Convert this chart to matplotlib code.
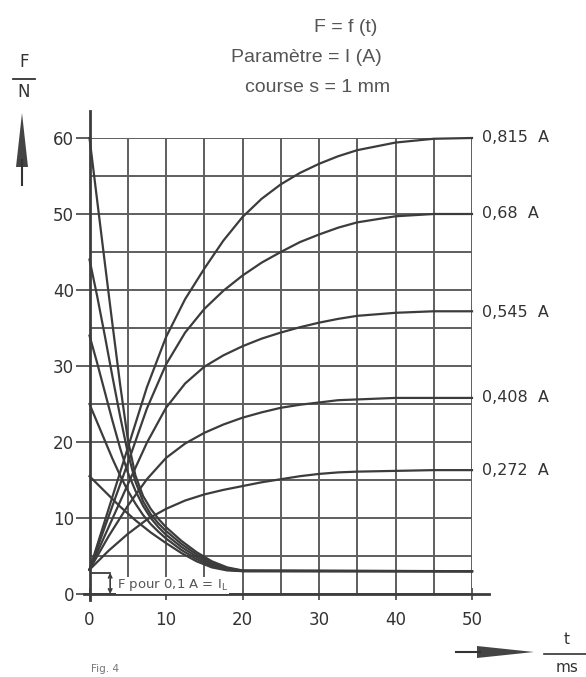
import numpy as np
import matplotlib
matplotlib.use('Agg')
import matplotlib.pyplot as plt

# ---- data (t in ms, F in N) ----
t_rise = [0, 2.5, 5, 7.5, 10, 12.5, 15, 17.5, 20, 22.5, 25, 27.5, 30, 32.5, 35, 40, 45, 50]
rise_0815 = [3.2, 11.2, 19.2, 27.2, 33.8, 38.8, 42.8, 46.5, 49.6, 52.0, 53.9, 55.4, 56.6, 57.6, 58.4, 59.4, 59.9, 60]
rise_068 = [3.2, 10.2, 17.2, 24.4, 30.2, 34.4, 37.5, 39.9, 41.9, 43.6, 45.0, 46.3, 47.3, 48.2, 48.9, 49.7, 50, 50]
rise_0545 = [3.2, 8.8, 14.4, 19.9, 24.5, 27.7, 29.9, 31.4, 32.6, 33.6, 34.4, 35.1, 35.7, 36.2, 36.6, 37.0, 37.2, 37.2]
rise_0408 = [3.2, 7.6, 11.6, 15.1, 17.9, 19.8, 21.2, 22.3, 23.2, 23.9, 24.5, 24.9, 25.2, 25.5, 25.6, 25.8, 25.8, 25.8]
rise_0272 = [3.2, 5.7, 7.9, 9.8, 11.2, 12.3, 13.1, 13.7, 14.2, 14.7, 15.1, 15.5, 15.8, 16.0, 16.1, 16.2, 16.3, 16.3]

t_decay = [0, 1, 2, 3, 4, 5, 6, 7, 8, 9, 10, 12, 14, 16, 18, 20, 50]
decay_60 = [60, 51.8, 43.6, 35.5, 27.6, 20.4, 15.6, 12.9, 11.2, 9.9, 8.8, 7.0, 5.5, 4.3, 3.5, 3.1, 3]
decay_45 = [44, 39.2, 34, 28.6, 23.4, 18.6, 14.8, 12.2, 10.5, 9.3, 8.3, 6.6, 5.2, 4.1, 3.4, 3.05, 3]
decay_35 = [34, 30.4, 26.6, 22.8, 19.2, 16.0, 13.6, 11.6, 10.0, 8.8, 7.8, 6.2, 4.9, 3.9, 3.3, 3.03, 3]
decay_25 = [25, 22.6, 20.2, 17.8, 15.6, 13.6, 11.9, 10.4, 9.2, 8.2, 7.3, 5.8, 4.6, 3.7, 3.2, 3.02, 3]
decay_15 = [15.5, 14.5, 13.5, 12.5, 11.5, 10.6, 9.7, 8.9, 8.1, 7.4, 6.7, 5.4, 4.3, 3.5, 3.1, 3.0, 3]

current_labels = ['0,815  A', '0,68  A', '0,545  A', '0,408  A', '0,272  A']
label_levels = [60, 50, 37, 25.9, 16.3]

x_ticks = [0, 10, 20, 30, 40, 50]
y_ticks = [0, 10, 20, 30, 40, 50, 60]

W, H = 586, 677
ink = '#3c3c3c'
grid_c = '#5e5e5e'
txt_c = '#333333'
title_c = '#555555'

plt.rcParams['font.family'] = ['DejaVu Sans']

fig = plt.figure(figsize=(W / 100, H / 100), dpi=100)
ax = fig.add_axes([89.5 / W, 1 - 594 / H, 382.5 / W, 456 / H])
ax.set_xlim(0, 50)
ax.set_ylim(0, 60)
for sp in ax.spines.values():
    sp.set_visible(False)

# grid every 5
for g in np.arange(0, 51, 5):
    ax.plot([g, g], [0, 60], color=grid_c, lw=1.4, zorder=1)
for g in np.arange(0, 61, 5):
    ax.plot([0, 50], [g, g], color=grid_c, lw=1.4, zorder=1)

# axes lines extending past the grid
ax.plot([0, 0], [-0.8, 63.5], color=ink, lw=2.0, clip_on=False, zorder=3)
ax.plot([-0.7, 52.2], [0, 0], color=ink, lw=2.0, clip_on=False, zorder=3)

ax.set_xticks(x_ticks)
ax.set_yticks(y_ticks)
ax.tick_params(axis='y', length=10, width=1.4, color=grid_c, pad=1,
               labelsize=12, labelcolor=txt_c)
ax.tick_params(axis='x', direction='inout', length=8, width=1.4, color=grid_c,
               pad=8, labelsize=12, labelcolor=txt_c)

# curves
for ys in [rise_0815, rise_068, rise_0545, rise_0408, rise_0272]:
    ax.plot(t_rise, ys, color=ink, lw=1.6, zorder=4, clip_on=False)
for ys in [decay_60, decay_45, decay_35, decay_25, decay_15]:
    ax.plot(t_decay, ys, color=ink, lw=1.6, zorder=4, clip_on=False)

for lab, lv in zip(current_labels, label_levels):
    ax.text(51.3, lv, lab, fontsize=11.5, color=txt_c, va='center', ha='left',
            clip_on=False)

# I_L marker
ax.plot([0, 2.7], [2.8, 2.8], color=ink, lw=1.3, zorder=4)
ax.annotate('', xy=(2.7, 0), xytext=(2.7, 2.8),
            arrowprops=dict(arrowstyle='<->', color=ink, lw=1.2,
                            mutation_scale=6, shrinkA=0, shrinkB=0))
ax.text(3.6, 1.15, r'F pour 0,1 A = I$_{\mathrm{L}}$', fontsize=9.5,
        color='#555555', va='center', ha='left', zorder=5,
        bbox=dict(facecolor='white', edgecolor='none', pad=0.5))

# titles
fig.text(346 / W, 1 - 27 / H, 'F = f (t)', ha='center', va='center',
         fontsize=14, color=title_c, family='Liberation Sans')
fig.text(306 / W, 1 - 58 / H, 'Paramètre = I (A)', ha='center', va='center',
         fontsize=14, color=title_c, family='Liberation Sans')
fig.text(318 / W, 1 - 88 / H, 'course s = 1 mm', ha='center', va='center',
         fontsize=14, color=title_c, family='Liberation Sans')

# F / N with vertical arrow
fig.text(24 / W, 1 - 62 / H, 'F', ha='center', va='center', fontsize=12, color=txt_c)
fig.add_artist(plt.Line2D([13 / W, 35 / W], [1 - 79 / H, 1 - 79 / H],
                          color=txt_c, lw=1.3))
fig.text(24 / W, 1 - 92 / H, 'N', ha='center', va='center', fontsize=12, color=txt_c)
fig.add_artist(plt.Line2D([22 / W, 22 / W], [1 - 185 / H, 1 - 160 / H],
                          color=txt_c, lw=1.5))
fig.add_artist(plt.Polygon([[16 / W, 1 - 167 / H], [28 / W, 1 - 167 / H],
                            [22 / W, 1 - 113 / H]], closed=True,
                           color='#444444', lw=0))

# t / ms with horizontal arrow
fig.add_artist(plt.Line2D([456 / W, 480 / W], [1 - 652 / H, 1 - 652 / H],
                          color=txt_c, lw=1.5))
fig.add_artist(plt.Polygon([[477 / W, 1 - 646 / H], [477 / W, 1 - 658 / H],
                            [534 / W, 1 - 652 / H]], closed=True,
                           color='#444444', lw=0))
fig.text(567 / W, 1 - 640 / H, 't', ha='center', va='center', fontsize=11, color=txt_c)
fig.add_artist(plt.Line2D([544 / W, 586 / W], [1 - 654 / H, 1 - 654 / H],
                          color=txt_c, lw=1.2))
fig.text(567 / W, 1 - 668 / H, 'ms', ha='center', va='center', fontsize=11, color=txt_c)

fig.text(105 / W, 1 - 669 / H, 'Fig. 4', ha='center', va='center', fontsize=7.5,
         color='#777777')

fig.savefig('out.png', dpi=100, facecolor='white')
